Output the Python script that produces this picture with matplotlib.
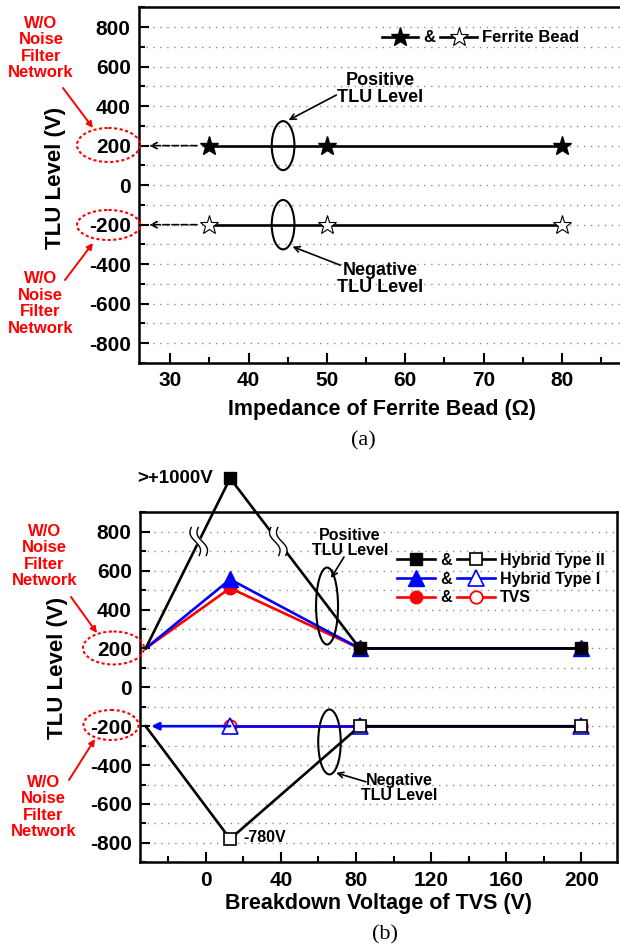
import numpy as np
import matplotlib
matplotlib.use('Agg')
import matplotlib.pyplot as plt
from matplotlib.lines import Line2D
from matplotlib.patches import Ellipse
from matplotlib.ticker import MultipleLocator

plt.rcParams['font.family'] = ['Liberation Sans', 'DejaVu Sans']
plt.rcParams['font.weight'] = 'bold'
plt.rcParams['axes.labelweight'] = 'bold'
plt.rcParams['axes.unicode_minus'] = False

# (a) ferrite bead impedance vs TLU level
ferrite_z = [35, 50, 80]
ferrite_pos = [200, 200, 200]
ferrite_neg = [-200, -200, -200]
wo_level = [200, -200]          # TLU level without noise filter network

# (b) TVS breakdown voltage vs TLU level, first point = W/O filter reference
tvs_v = [-32, 13, 82, 200]
type2_pos = [200, 1075, 200, 200]
type2_neg = [-200, -780, -200, -200]
type1_pos = [200, 555, 200, 200]
type1_neg = [-200, -200, -200, -200]
tvs_pos = [200, 510, 200, 200]
tvs_neg = [-200, -200, -200, -200]

W, H = 620, 947
LW = 1.9
fig = plt.figure(figsize=(W / 100, H / 100), dpi=100)
ax1 = fig.add_axes([139 / W, 1 - 363 / H, 485.5 / W, 355.7 / H])
ax2 = fig.add_axes([140 / W, 1 - 862.3 / H, 477 / W, 350 / H])


def style(ax):
    ax.set_ylim(-900, 900)
    ax.yaxis.set_major_locator(MultipleLocator(200))
    ax.yaxis.set_minor_locator(MultipleLocator(100))
    ax.grid(axis='y', which='both', color='#8a8a8a', linestyle=(0, (1, 4)), lw=1)
    ax.set_axisbelow(True)
    ax.tick_params(which='both', direction='in', width=1.5, labelsize=15,
                   top=False, right=False, pad=6)
    ax.tick_params(which='major', length=7)
    ax.tick_params(which='minor', length=4)
    for s in ax.spines.values():
        s.set_linewidth(1.8)


# ---------------- (a) ----------------
style(ax1)
ax1.set_xlim(26, 88)
ax1.xaxis.set_major_locator(MultipleLocator(10))
ax1.xaxis.set_minor_locator(MultipleLocator(5))

ax1.plot(ferrite_z, ferrite_pos, color='k', lw=LW, marker='*', ms=14, mfc='k', mec='k', zorder=5)
ax1.plot(ferrite_z, ferrite_neg, color='k', lw=LW, marker='*', ms=14, mfc='white', mec='k',
         mew=0.8, zorder=5)
for lvl in wo_level:
    ax1.annotate('', xy=(27.3, lvl), xytext=(ferrite_z[0], lvl),
                 arrowprops=dict(arrowstyle='->', color='k', lw=1.2, ls=(0, (4, 1.5)),
                                 shrinkA=9, shrinkB=0, mutation_scale=11))

for lvl, h in ((200, 248), (-200, 250)):
    ax1.add_patch(Ellipse((44.4, lvl), 2.9, h, fill=False, ec='k', lw=1.5, zorder=6))

ax1.text(56.8, 487, 'Positive\nTLU Level', fontsize=13, ha='center', va='center', linespacing=1.05)
ax1.annotate('', xy=(45.1, 329), xytext=(51.2, 456),
             arrowprops=dict(arrowstyle='->', color='k', lw=1.2, shrinkA=0, shrinkB=0))
ax1.text(56.8, -475, 'Negative\nTLU Level', fontsize=13, ha='center', va='center', linespacing=1.05)
ax1.annotate('', xy=(45.6, -311), xytext=(51.7, -405),
             arrowprops=dict(arrowstyle='->', color='k', lw=1.2, shrinkA=0, shrinkB=0))

hf = Line2D([], [], color='k', lw=LW, marker='*', ms=14, mfc='k', mec='k')
ho = Line2D([], [], color='k', lw=LW, marker='*', ms=14, mfc='white', mec='k', mew=0.8)
ax1.legend([hf, ho], ['&', 'Ferrite Bead'], ncol=2, frameon=False, loc='center left',
           bbox_to_anchor=((381.6 - 139) / 485.5, (363 - 38) / 355.7), borderaxespad=0,
           borderpad=0, handlelength=2.2, handletextpad=0.3, columnspacing=0.3,
           prop=dict(size=12, weight='bold'))

ax1.set_xlabel('Impedance of Ferrite Bead (\u03a9)', fontsize=15.5, va='center')
ax1.xaxis.set_label_coords(0.5, (363 - 410) / 355.7)
ax1.set_ylabel('TLU Level (V)', fontsize=16, va='center')
ax1.yaxis.set_label_coords((56 - 139) / 485.5, 0.52)

# ---------------- (b) ----------------
style(ax2)
ax2.set_xlim(-35, 219)
ax2.xaxis.set_major_locator(MultipleLocator(40))
ax2.xaxis.set_minor_locator(MultipleLocator(20))

mk = [1, 2, 3]
ax2.plot(tvs_v, tvs_pos, color='red', lw=LW, marker='o', ms=9, mfc='red', mec='red',
         markevery=mk, zorder=3)
ax2.plot(tvs_v[1:], tvs_neg[1:], color='red', lw=LW, marker='o', ms=9, mfc='white', mec='red',
         mew=1.3, zorder=3)
ax2.plot(tvs_v, type1_pos, color='blue', lw=LW, marker='^', ms=11, mfc='blue', mec='blue',
         markevery=mk, zorder=4)
ax2.plot(tvs_v[1:], type1_neg[1:], color='blue', lw=LW, marker='^', ms=11, mfc='white',
         mec='blue', mew=1.2, zorder=4)
ax2.annotate('', xy=(tvs_v[0] + 3, type1_neg[0]), xytext=(tvs_v[1], type1_neg[1]),
             arrowprops=dict(arrowstyle='-|>', color='blue', lw=LW, shrinkA=0, shrinkB=0,
                             mutation_scale=11), zorder=4)
ax2.plot(tvs_v, type2_pos, color='k', lw=LW, marker='s', ms=9, mfc='k', mec='k',
         markevery=mk, zorder=5, clip_on=False)
ax2.plot(tvs_v, type2_neg, color='k', lw=LW, marker='s', ms=9, mfc='white', mec='k',
         mew=1.2, markevery=mk, zorder=5)

ax2.text(tvs_v[1] - 9, type2_pos[1], '>+1000V', fontsize=13.5, ha='right', va='center')
ax2.text(tvs_v[1] + 7, type2_neg[1] + 5, '-%dV' % abs(type2_neg[1]), fontsize=11.5,
         ha='left', va='center')

ax2.add_patch(Ellipse((64.6, 418), 11.7, 396, fill=False, ec='k', lw=1.5, zorder=6))
ax2.add_patch(Ellipse((65.9, -281), 12, 334, fill=False, ec='k', lw=1.5, zorder=6))
ax2.text(76.8, 742, 'Positive\nTLU Level', fontsize=11.5, ha='center', va='center', linespacing=1.05)
ax2.annotate('', xy=(66.7, 562), xytext=(73.6, 670),
             arrowprops=dict(arrowstyle='->', color='k', lw=1.2, shrinkA=0, shrinkB=0))
ax2.text(102.9, -518, 'Negative\nTLU Level', fontsize=11.5, ha='center', va='center', linespacing=1.05)
ax2.annotate('', xy=(69.4, -440), xytext=(85.3, -486),
             arrowprops=dict(arrowstyle='->', color='k', lw=1.2, shrinkA=0, shrinkB=0))

handles = [
    Line2D([], [], color='k', lw=LW, marker='s', ms=9, mfc='k', mec='k'),
    Line2D([], [], color='blue', lw=LW, marker='^', ms=11, mfc='blue', mec='blue'),
    Line2D([], [], color='red', lw=LW, marker='o', ms=9, mfc='red', mec='red'),
    Line2D([], [], color='k', lw=LW, marker='s', ms=9, mfc='white', mec='k', mew=1.2),
    Line2D([], [], color='blue', lw=LW, marker='^', ms=11, mfc='white', mec='blue', mew=1.2),
    Line2D([], [], color='red', lw=LW, marker='o', ms=9, mfc='white', mec='red', mew=1.3),
]
labels = ['&', '&', '&', 'Hybrid Type II', 'Hybrid Type I', 'TVS']
ax2.legend(handles, labels, ncol=2, frameon=False, loc='center left',
           bbox_to_anchor=((397 - 140) / 477, (862.3 - 579) / 350), borderaxespad=0,
           borderpad=0, handlelength=2.4, handletextpad=0.3, columnspacing=0.3,
           labelspacing=0.25, prop=dict(size=11.5, weight='bold'))

ax2.set_xlabel('Breakdown Voltage of TVS (V)', fontsize=15.5, va='center')
ax2.xaxis.set_label_coords(0.5, (862.3 - 903) / 350)
ax2.set_ylabel('TLU Level (V)', fontsize=16, va='center')
ax2.yaxis.set_label_coords((57 - 140) / 477, 0.555)

# ---------------- overlay (pixel coords) ----------------
ov = fig.add_axes([0, 0, 1, 1], zorder=10)
ov.set_xlim(0, W)
ov.set_ylim(H, 0)
ov.axis('off')

red_notes = [
    # text centre, arrow tail, arrow head, ellipse centre, ellipse size
    ((41, 48), (63, 88), (93, 128), (108.5, 145), (63, 34)),
    ((40.5, 303.5), (65, 280), (93, 243), (108.5, 225), (63, 30)),
    ((44.5, 556), (71, 597), (97, 633), (113.5, 648), (61, 33)),
    ((43.5, 807), (69, 780), (95, 739), (111, 725), (55, 30)),
]
for txt, tail, head, ec, es in red_notes:
    ov.text(txt[0], txt[1], 'W/O\nNoise\nFilter\nNetwork', color='red', fontsize=12,
            ha='center', va='center', linespacing=1.12)
    ov.annotate('', xy=head, xytext=tail,
                arrowprops=dict(arrowstyle='-|>', color='red', lw=1.4, shrinkA=0, shrinkB=0,
                                mutation_scale=9))
    ov.add_patch(Ellipse(ec, es[0], es[1], fill=False, ec='red', lw=1.5, ls=(0, (1.5, 1.2))))

# axis-break marks on the Hybrid Type II positive line
yb = 750
for i in (0, 1):
    xb = tvs_v[i] + (yb - type2_pos[i]) / (type2_pos[i + 1] - type2_pos[i]) * (tvs_v[i + 1] - tvs_v[i])
    dx, dy = ax2.transData.transform((xb, yb))
    cx, cy = dx, H - dy
    t = np.linspace(-1, 1, 40)
    ys = cy + 14 * t
    base = cx + 3 * np.sin(np.pi * t) + 4 * t
    ov.plot(base, ys, color='white', lw=5, solid_capstyle='butt')
    for off in (-3.5, 3.5):
        ov.plot(base + off, ys, color='k', lw=1.0)

fig.text(363 / W, 1 - 441 / H, '(a)', family='Liberation Serif', weight='normal', fontsize=16,
         ha='center', va='center')
fig.text(385 / W, 1 - 935 / H, '(b)', family='Liberation Serif', weight='normal', fontsize=16,
         ha='center', va='center')

fig.savefig('out.png', dpi=100)
